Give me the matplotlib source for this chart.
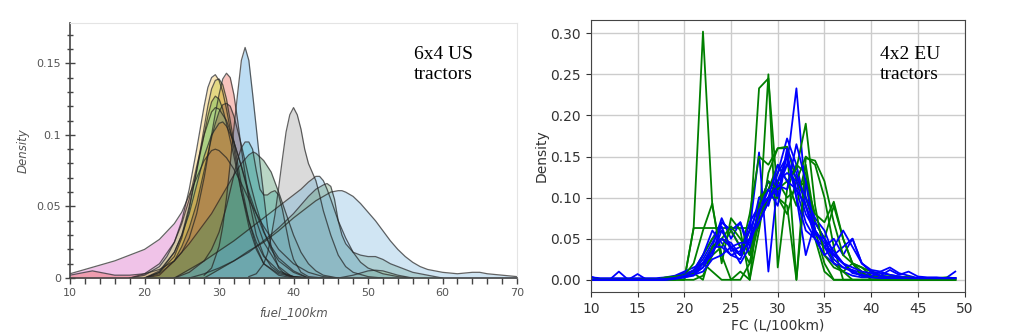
import matplotlib.pyplot as plt
from matplotlib.ticker import MultipleLocator, FixedLocator

# --- 6x4 US tractors: density curves (fuel_100km) ---
# each curve: knot positions (L/100km) and density values
us_curves = [
    # pink, long left tail
    ("#d85bc0",
     [10, 12, 14, 16, 18, 20, 22, 24, 25, 26, 27, 28, 29, 29.5, 30, 31, 32, 33, 34, 35, 36, 38, 40, 42, 44, 46],
     [0.003, 0.006, 0.009, 0.012, 0.016, 0.02, 0.027, 0.038, 0.046, 0.058, 0.07, 0.082, 0.089, 0.09, 0.089,
      0.084, 0.076, 0.066, 0.055, 0.045, 0.036, 0.02, 0.01, 0.004, 0.001, 0.0]),
    # red
    ("#ee5a4a",
     [10, 12, 13, 14, 16, 18, 20, 22, 24, 25, 26, 27, 28, 29, 29.5, 30, 30.5, 31, 31.5, 32, 32.5, 33, 34, 35,
      36, 37, 38, 40, 42],
     [0.002, 0.004, 0.005, 0.004, 0.002, 0.002, 0.003, 0.006, 0.012, 0.018, 0.028, 0.045, 0.07, 0.1, 0.115,
      0.128, 0.139, 0.143, 0.14, 0.128, 0.11, 0.09, 0.055, 0.03, 0.016, 0.008, 0.004, 0.001, 0.0]),
    # yellow
    ("#f6c143",
     [18, 20, 22, 23, 24, 25, 26, 27, 27.5, 28, 28.5, 29, 29.5, 30, 30.5, 31, 32, 33, 34, 35, 36, 38, 40, 42],
     [0.0, 0.002, 0.008, 0.015, 0.025, 0.04, 0.062, 0.09, 0.105, 0.12, 0.133, 0.14, 0.142, 0.138, 0.13, 0.118,
      0.09, 0.06, 0.036, 0.02, 0.01, 0.003, 0.001, 0.0]),
    # olive
    ("#bcbd22",
     [20, 22, 24, 25, 26, 27, 28, 28.5, 29, 29.5, 30, 30.5, 31, 31.5, 32, 33, 34, 35, 36, 38, 40, 44, 46, 48,
      50, 51, 52, 54, 56],
     [0.0, 0.004, 0.015, 0.028, 0.048, 0.075, 0.105, 0.12, 0.132, 0.138, 0.139, 0.135, 0.125, 0.11, 0.095,
      0.065, 0.04, 0.022, 0.01, 0.002, 0.0, 0.0, 0.0, 0.002, 0.005, 0.0055, 0.005, 0.002, 0.0]),
    # green
    ("#5cb85c",
     [20, 22, 24, 25, 26, 27, 28, 28.5, 29, 29.5, 30, 30.5, 31, 32, 33, 34, 35, 36, 38, 40, 42],
     [0.0, 0.005, 0.018, 0.03, 0.05, 0.075, 0.1, 0.113, 0.123, 0.127, 0.125, 0.118, 0.108, 0.085, 0.06, 0.04,
      0.025, 0.015, 0.005, 0.001, 0.0]),
    # pale green
    ("#9fd8a0",
     [18, 20, 22, 24, 25, 26, 27, 28, 29, 29.5, 30, 31, 32, 33, 34, 35, 36, 37, 38, 40, 42],
     [0.0, 0.003, 0.01, 0.025, 0.038, 0.055, 0.078, 0.1, 0.116, 0.119, 0.118, 0.11, 0.095, 0.078, 0.06, 0.045,
      0.032, 0.022, 0.014, 0.005, 0.0]),
    # orange
    ("#ff7f0e",
     [20, 22, 24, 25, 26, 27, 28, 29, 30, 30.5, 31, 32, 33, 34, 35, 36, 38, 40],
     [0.0, 0.004, 0.018, 0.03, 0.045, 0.065, 0.085, 0.1, 0.108, 0.109, 0.106, 0.095, 0.078, 0.058, 0.04, 0.025,
      0.008, 0.0]),
    # brown
    ("#8c564b",
     [20, 22, 24, 25, 26, 27, 28, 29, 29.5, 30, 30.5, 31, 31.5, 32, 33, 34, 35, 36, 37, 38, 40, 42],
     [0.0, 0.003, 0.012, 0.022, 0.035, 0.052, 0.075, 0.098, 0.108, 0.116, 0.121, 0.122, 0.12, 0.113, 0.093,
      0.07, 0.05, 0.033, 0.02, 0.012, 0.004, 0.0]),
    # blue, narrow
    ("#4aa3df",
     [28, 29, 30, 30.5, 31, 31.5, 32, 32.5, 33, 33.5, 34, 34.5, 35, 35.5, 36, 36.5, 37, 38, 39, 40],
     [0.002, 0.007, 0.022, 0.036, 0.056, 0.08, 0.105, 0.129, 0.152, 0.161, 0.152, 0.129, 0.105, 0.08, 0.058,
      0.036, 0.022, 0.007, 0.002, 0.0]),
    # teal with shoulder
    ("#3fb4bf",
     [24, 26, 28, 29, 30, 31, 32, 32.5, 33, 33.5, 34, 34.5, 35, 35.5, 36, 36.5, 37, 37.5, 38, 38.5, 39, 39.5,
      40, 41, 42, 44],
     [0.0, 0.004, 0.012, 0.02, 0.032, 0.05, 0.072, 0.083, 0.091, 0.095, 0.095, 0.09, 0.075, 0.062, 0.058,
      0.058, 0.06, 0.061, 0.058, 0.048, 0.035, 0.022, 0.013, 0.004, 0.001, 0.0]),
    # dark green, wide
    ("#3f8f5f",
     [20, 22, 24, 26, 27, 28, 29, 30, 31, 32, 33, 34, 34.6, 35, 36, 37, 38, 39, 40, 41, 42, 43, 44, 46],
     [0.0, 0.002, 0.012, 0.024, 0.031, 0.038, 0.045, 0.054, 0.063, 0.072, 0.08, 0.086, 0.088, 0.087, 0.082,
      0.074, 0.06, 0.045, 0.03, 0.018, 0.01, 0.005, 0.002, 0.0]),
    # gray
    ("#999999",
     [34, 35, 36, 36.5, 37, 37.5, 38, 38.5, 39, 39.5, 40, 40.5, 41, 41.5, 42, 42.5, 43, 43.5, 44, 45, 46, 47,
      48, 50, 52],
     [0.001, 0.003, 0.01, 0.017, 0.029, 0.044, 0.063, 0.083, 0.102, 0.114, 0.119, 0.114, 0.104, 0.09, 0.08,
      0.074, 0.068, 0.058, 0.047, 0.03, 0.016, 0.008, 0.004, 0.001, 0.0]),
    # light blue, peak near 43
    ("#6aaed6",
     [24, 26, 28, 30, 32, 34, 36, 38, 39, 40, 41, 42, 42.5, 43, 43.5, 44, 44.5, 45, 46, 47, 48, 49, 50, 52,
      54, 56],
     [0.0, 0.006, 0.012, 0.019, 0.026, 0.034, 0.042, 0.05, 0.054, 0.058, 0.062, 0.067, 0.069, 0.071, 0.071,
      0.068, 0.062, 0.055, 0.04, 0.028, 0.018, 0.011, 0.007, 0.003, 0.001, 0.0]),
    # sage green, peak near 44.5
    ("#6b9e78",
     [26, 28, 30, 32, 34, 36, 38, 40, 41, 42, 43, 44, 44.5, 45, 45.5, 46, 46.5, 47, 48, 49, 50, 51, 52, 53,
      54, 56, 58, 60],
     [0.0, 0.003, 0.007, 0.012, 0.018, 0.026, 0.035, 0.045, 0.051, 0.057, 0.062, 0.065, 0.066, 0.064, 0.055,
      0.04, 0.03, 0.024, 0.018, 0.016, 0.015, 0.015, 0.013, 0.01, 0.008, 0.004, 0.002, 0.0]),
    # pale blue, wide right tail
    ("#7fb8e0",
     [28, 30, 32, 34, 36, 38, 40, 42, 43, 44, 45, 46, 46.5, 47, 48, 49, 50, 51, 52, 53, 54, 55, 56, 57, 58,
      60, 62, 64, 65, 66, 68, 70],
     [0.0, 0.006, 0.012, 0.019, 0.025, 0.033, 0.042, 0.05, 0.054, 0.057, 0.06, 0.061, 0.061, 0.06, 0.057,
      0.052, 0.046, 0.04, 0.033, 0.026, 0.02, 0.015, 0.011, 0.008, 0.006, 0.004, 0.003, 0.004, 0.004, 0.003,
      0.002, 0.001]),
]

us_xticks = [10, 20, 30, 40, 50, 60, 70]
us_yticks = [0, 0.05, 0.1, 0.15]
us_yticklabels = ["0", "0.05", "0.1", "0.15"]

# --- 4x2 EU tractors: binned densities at 1 L/100km steps ---
eu_x = list(range(10, 50))

eu_green = [
    [0, 0, 0, 0, 0, 0, 0, 0, 0, 0.002,
     0.0, 0.063, 0.302, 0.09, 0.03, 0.0, 0.01, 0.0, 0.06, 0.13,
     0.16, 0.16, 0.0, 0.12, 0.05, 0.01, 0, 0, 0, 0,
     0, 0, 0, 0, 0, 0, 0, 0, 0, 0],
    [0, 0, 0, 0, 0, 0, 0, 0, 0, 0,
     0.0, 0.063, 0.063, 0.063, 0.063, 0.063, 0.063, 0.063, 0.063, 0.25,
     0.015, 0.11, 0.14, 0.13, 0.06, 0.02, 0.0, 0, 0, 0,
     0, 0, 0, 0, 0, 0, 0, 0, 0, 0],
    [0, 0, 0, 0, 0, 0, 0, 0, 0.002, 0.003,
     0.005, 0.01, 0.03, 0.05, 0.06, 0.04, 0.03, 0.06, 0.233, 0.245,
     0.10, 0.08, 0.12, 0.10, 0.07, 0.05, 0.02, 0.01, 0.0, 0,
     0, 0, 0, 0, 0, 0, 0, 0, 0, 0],
    [0, 0, 0, 0, 0, 0, 0, 0, 0, 0.002,
     0.004, 0.008, 0.02, 0.04, 0.05, 0.04, 0.03, 0.08, 0.15, 0.14,
     0.16, 0.162, 0.12, 0.15, 0.14, 0.10, 0.04, 0.0, 0, 0,
     0, 0, 0, 0, 0, 0, 0, 0, 0, 0],
    [0, 0, 0, 0, 0, 0, 0, 0, 0, 0,
     0.005, 0.02, 0.06, 0.093, 0.02, 0.075, 0.06, 0.0, 0.10, 0.11,
     0.14, 0.12, 0.09, 0.14, 0.07, 0.05, 0.09, 0.05, 0.02, 0.01,
     0.0, 0, 0, 0, 0, 0, 0, 0, 0, 0],
    [0, 0, 0, 0, 0, 0, 0, 0, 0.003, 0.004,
     0.005, 0.01, 0.02, 0.01, 0.0, 0.0, 0.0, 0.02, 0.07, 0.10,
     0.12, 0.10, 0.11, 0.12, 0.08, 0.07, 0.095, 0.05, 0.02, 0.015,
     0.005, 0.003, 0.002, 0, 0, 0, 0, 0, 0, 0],
    [0, 0, 0, 0, 0, 0, 0, 0, 0, 0,
     0.0, 0.0, 0.005, 0.03, 0.04, 0.06, 0.04, 0.02, 0.08, 0.10,
     0.10, 0.09, 0.0, 0.148, 0.145, 0.12, 0.07, 0.03, 0.02, 0.005,
     0.003, 0.002, 0.002, 0.002, 0.002, 0.002, 0, 0, 0, 0],
    [0, 0, 0, 0, 0, 0, 0, 0, 0.002, 0.003,
     0.006, 0.008, 0.0, 0.04, 0.05, 0.065, 0.05, 0.03, 0.09, 0.12,
     0.11, 0.12, 0.135, 0.19, 0.09, 0.03, 0.015, 0.01, 0.02, 0.015,
     0.01, 0.005, 0.004, 0.003, 0.003, 0.002, 0.002, 0.002, 0.003, 0.002],
]

eu_blue = [
    [0.004, 0, 0, 0.01, 0, 0.007, 0, 0, 0, 0.003,
     0.005, 0.01, 0.03, 0.05, 0.07, 0.06, 0.04, 0.05, 0.08, 0.10,
     0.12, 0.14, 0.233, 0.10, 0.06, 0.04, 0.03, 0.02, 0.01, 0.005,
     0.008, 0.005, 0.012, 0.006, 0.01, 0.004, 0.003, 0.003, 0.002, 0.01],
    [0.003, 0.002, 0.002, 0.002, 0.002, 0.002, 0.002, 0.002, 0.003, 0.005,
     0.01, 0.015, 0.02, 0.04, 0.075, 0.05, 0.07, 0.03, 0.09, 0.11,
     0.13, 0.172, 0.14, 0.09, 0.05, 0.03, 0.02, 0.01, 0.005, 0.003,
     0.003, 0.002, 0.002, 0.002, 0.002, 0.002, 0.002, 0.002, 0.002, 0.002],
    [0, 0, 0, 0, 0, 0, 0, 0, 0.002, 0.004,
     0.008, 0.01, 0.025, 0.045, 0.065, 0.035, 0.04, 0.06, 0.155, 0.01,
     0.12, 0.15, 0.11, 0.07, 0.05, 0.04, 0.02, 0.015, 0.012, 0.008,
     0.005, 0.004, 0.003, 0.002, 0.002, 0.002, 0.002, 0.002, 0.002, 0.002],
    [0, 0, 0, 0, 0, 0, 0, 0, 0, 0.002,
     0.005, 0.008, 0.02, 0.035, 0.05, 0.045, 0.03, 0.07, 0.09, 0.12,
     0.10, 0.16, 0.13, 0.09, 0.06, 0.04, 0.05, 0.03, 0.05, 0.02,
     0.01, 0.008, 0.006, 0.004, 0.003, 0.002, 0.002, 0.002, 0.002, 0.002],
    [0, 0, 0, 0, 0, 0, 0, 0, 0.001, 0.003,
     0.006, 0.012, 0.03, 0.06, 0.045, 0.03, 0.025, 0.05, 0.10, 0.09,
     0.13, 0.15, 0.10, 0.03, 0.07, 0.05, 0.035, 0.02, 0.01, 0.005,
     0.003, 0.003, 0.003, 0.002, 0.002, 0.002, 0.002, 0.002, 0.002, 0.002],
    [0, 0, 0, 0, 0, 0, 0, 0, 0.002, 0.002,
     0.004, 0.008, 0.015, 0.03, 0.07, 0.06, 0.07, 0.04, 0.07, 0.095,
     0.12, 0.13, 0.12, 0.08, 0.06, 0.04, 0.03, 0.04, 0.05, 0.02,
     0.012, 0.01, 0.006, 0.004, 0.003, 0.002, 0.002, 0.002, 0.002, 0.002],
    [0, 0, 0, 0, 0, 0, 0, 0, 0, 0.002,
     0.003, 0.005, 0.02, 0.04, 0.04, 0.03, 0.035, 0.06, 0.09, 0.10,
     0.11, 0.14, 0.125, 0.10, 0.075, 0.06, 0.03, 0.02, 0.008, 0.006,
     0.004, 0.01, 0.015, 0.008, 0.005, 0.002, 0.002, 0.002, 0.002, 0.002],
    [0, 0, 0, 0, 0, 0, 0, 0, 0.001, 0.002,
     0.005, 0.01, 0.02, 0.03, 0.06, 0.04, 0.045, 0.045, 0.08, 0.11,
     0.09, 0.155, 0.10, 0.06, 0.05, 0.03, 0.04, 0.06, 0.04, 0.02,
     0.01, 0.005, 0.003, 0.003, 0.002, 0.002, 0.002, 0.002, 0.002, 0.002],
    [0, 0, 0, 0, 0, 0, 0, 0, 0, 0.001,
     0.003, 0.006, 0.015, 0.035, 0.05, 0.04, 0.02, 0.04, 0.085, 0.10,
     0.14, 0.12, 0.11, 0.09, 0.055, 0.05, 0.025, 0.015, 0.01, 0.005,
     0.003, 0.002, 0.002, 0.002, 0.002, 0.002, 0.002, 0.002, 0.002, 0.002],
    [0, 0, 0, 0, 0, 0, 0, 0, 0.001, 0.002,
     0.004, 0.006, 0.01, 0.025, 0.03, 0.04, 0.03, 0.05, 0.07, 0.095,
     0.115, 0.11, 0.165, 0.12, 0.06, 0.045, 0.03, 0.02, 0.015, 0.01,
     0.008, 0.004, 0.003, 0.003, 0.002, 0.002, 0.002, 0.002, 0.002, 0.002],
]

fig = plt.figure(figsize=(10.24, 3.35), dpi=100)

# ===== left panel =====
ax1 = fig.add_axes([0.0684, 0.170, 0.4365, 0.761])
for color, xs, ys in us_curves:
    ax1.fill_between(xs, ys, 0, color=color, alpha=0.36, lw=0)
    ax1.plot(xs, ys, color="#222222", lw=0.9, alpha=0.7)

ax1.set_xlim(10, 70)
ax1.set_ylim(0, 0.178)
ax1.xaxis.set_major_locator(FixedLocator(us_xticks))
ax1.xaxis.set_minor_locator(MultipleLocator(2))
ax1.yaxis.set_major_locator(FixedLocator(us_yticks))
ax1.set_yticklabels(us_yticklabels)
ax1.yaxis.set_minor_locator(MultipleLocator(0.01))
ax1.tick_params(axis="x", which="both", direction="out", length=4, width=1, color="#444444",
                labelsize=8, labelcolor="#555555", pad=3)
ax1.tick_params(axis="y", which="major", direction="inout", length=7, width=1, color="#444444",
                labelsize=8, labelcolor="#555555", pad=3)
ax1.tick_params(axis="y", which="minor", direction="inout", length=4, width=1, color="#444444")
for side in ["left", "bottom"]:
    ax1.spines[side].set_color("#444444")
    ax1.spines[side].set_linewidth(1.2)
for side in ["top", "right"]:
    ax1.spines[side].set_color("#e4e4e4")
ax1.set_xlabel("fuel_100km", fontsize=8.5, style="italic", color="#555555", labelpad=6)
ax1.set_ylabel("Density", fontsize=8.5, style="italic", color="#555555", labelpad=5)
ax1.text(0.835, 0.91, "6x4 US\ntractors", transform=ax1.transAxes, ha="center", va="top",
         fontsize=14, family="Liberation Serif", linespacing=1.2)

# ===== right panel =====
ax2 = fig.add_axes([0.577, 0.128, 0.365, 0.812])
for i in range(max(len(eu_green), len(eu_blue))):
    if i < len(eu_green):
        ax2.plot(eu_x, eu_green[i], color="green", lw=1.3)
    if i < len(eu_blue):
        ax2.plot(eu_x, eu_blue[i], color="blue", lw=1.3)

ax2.set_xlim(10, 50)
ax2.set_ylim(-0.015, 0.316)
ax2.set_xticks(range(10, 51, 5))
ax2.set_yticks([0.0, 0.05, 0.10, 0.15, 0.20, 0.25, 0.30])
ax2.set_yticklabels(["0.00", "0.05", "0.10", "0.15", "0.20", "0.25", "0.30"])
ax2.grid(True, color="#cccccc", lw=1)
ax2.set_axisbelow(True)
ax2.tick_params(labelsize=10, colors="#333333", length=3.5)
for side in ax2.spines.values():
    side.set_color("#444444")
ax2.set_xlabel("FC (L/100km)", fontsize=10, color="#333333", labelpad=2)
ax2.set_ylabel("Density", fontsize=10, color="#333333", labelpad=1)
ax2.text(0.853, 0.905, "4x2 EU\ntractors", transform=ax2.transAxes, ha="center", va="top",
         fontsize=14, family="Liberation Serif", linespacing=1.2)

plt.savefig("out.png", dpi=100)
